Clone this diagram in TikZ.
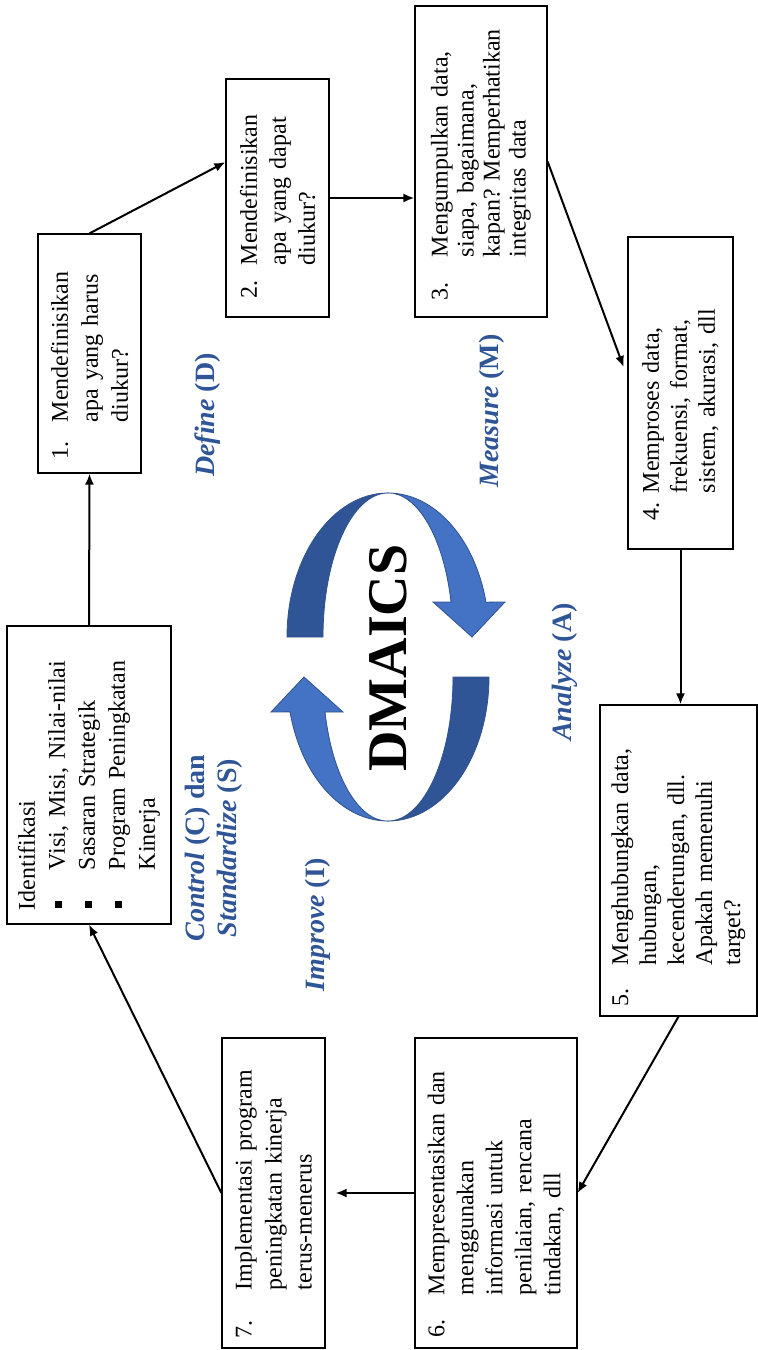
\documentclass[tikz,border=0pt]{standalone}
\usepackage{fontspec}
\setmainfont{Liberation Serif}
\usetikzlibrary{arrows.meta,calc}
\definecolor{phaseblue}{RGB}{47,85,151}
\definecolor{dmdark}{RGB}{47,85,151}
\definecolor{dmlight}{RGB}{68,114,196}
\definecolor{dmline}{RGB}{47,82,143}
\hyphenpenalty=10000
\exhyphenpenalty=10000
\frenchspacing
\newcommand{\steptext}[4]{\makebox[#1][l]{#2}\parbox[t]{#3}{#4}}
\newcommand{\bulletitem}[1]{\makebox[20pt][l]{\hspace{1pt}\rule[1.2pt]{3.5pt}{3.5pt}}\parbox[t]{110pt}{#1}}
\tikzset{
  stepbox/.style={draw, line width=0.6pt, rotate=90, inner sep=0pt, align=left,
    font=\fontsize{12}{14.5}\selectfont},
  flow/.style={-{Latex[length=5.5pt,width=4.5pt]}, line width=1pt},
  phase/.style={rotate=90, text=phaseblue, align=center,
    font=\fontsize{14}{16}\selectfont\bfseries},
  dmband/.style={draw=dmline, line width=0.4pt},
}
\begin{document}
\begin{tikzpicture}
    \def\x{0.5pt}
    \def\y{-0.5pt}
    \useasboundingbox (0,0) rectangle (758*\x,1350*\y);
    % steps of the cycle
    \node[stepbox, minimum width=149pt, minimum height=82pt, text width=135pt, font=\fontsize{12}{15}\selectfont] (b0) at (89*\x,775*\y) {Identifikasi\\ \bulletitem{Visi, Misi, Nilai-nilai}\\ \bulletitem{Sasaran Strategik}\\ \bulletitem{Program Peningkatan\linebreak Kinerja}};
    \node[stepbox, minimum width=119.5pt, minimum height=51.5pt, text width=105.5pt, font=\fontsize{12}{15}\selectfont] (b1) at (89.5*\x,353.5*\y) {\steptext{18.5pt}{1.}{78pt}{Mendefinisikan\linebreak apa yang harus\linebreak diukur?}};
    \node[stepbox, minimum width=119pt, minimum height=51.5pt, text width=100pt] (b2) at (277.5*\x,198*\y) {\steptext{16.5pt}{2.}{78pt}{Mendefinisikan\linebreak apa yang dapat\linebreak diukur?}};
    \node[stepbox, minimum width=155.5pt, minimum height=66pt, text width=138.5pt, font=\fontsize{12}{13}\selectfont] (b3) at (481*\x,161.5*\y) {\steptext{21.5pt}{3.}{117pt}{Mengumpulkan data,\linebreak siapa, bagaimana,\linebreak kapan? Memperhatikan\linebreak integritas data}};
    \node[stepbox, minimum width=156pt, minimum height=52.5pt, text width=127pt, font=\fontsize{12}{14}\selectfont] (b4) at (680.5*\x,393*\y) {\steptext{13.5pt}{4.}{100pt}{Memproses data,\\ frekuensi, format,\\ sistem, akurasi, dll}};
    \node[stepbox, minimum width=155.5pt, minimum height=78.5pt, text width=145.5pt, font=\fontsize{12}{14}\selectfont] (b5) at (678.5*\x,860.5*\y) {\steptext{20.5pt}{5.}{110pt}{Menghubungkan data,\linebreak hubungan,\\ kecenderungan, dll.\linebreak Apakah memenuhi\linebreak target?}};
    \node[stepbox, minimum width=155pt, minimum height=81pt, text width=144pt] (b6) at (496*\x,1193*\y) {\steptext{21pt}{6.}{119pt}{Mempresentasikan dan\linebreak menggunakan\\ informasi untuk\\ penilaian, rencana\linebreak tindakan, dll}};
    \node[stepbox, minimum width=155pt, minimum height=51.5pt, text width=145pt, font=\fontsize{12}{15}\selectfont] (b7) at (273.5*\x,1193*\y) {\steptext{24pt}{7.}{111pt}{Implementasi program\linebreak peningkatan kinerja\linebreak terus-menerus}};
    % connectors
    \draw[flow] (b0.east) -- (b1.west);
    \draw[flow] (b1.east) -- ($(b2.north east)!0.35!(b2.north west)$);
    \draw[flow] (b2.south) -- (b2.south -| b3.north);
    \draw[flow, shorten >=5.5pt] (b3.south) -- ($(b4.north east)!0.45!(b4.north west)$);
    \draw[flow] (b4.west) -- (b4.west |- b5.east);
    \draw[flow] (b5.west) -- (b6.south);
    \draw[flow, shorten >=5pt] (b6.north) -- (b7.south);
    \draw[flow] (b7.north) -- (b0.west);
    % the two turning arrows
    \foreach \r in {0,180}{
      \begin{scope}[rotate around={\r:(388*\x,657*\y)}]
        \begin{scope}[shift={(388*\x,637*\y)}, x=0.5pt, y=0.5pt]
          \filldraw[dmband, fill=dmdark] (-101,0) arc[start angle=180, end angle=90, x radius=101, y radius=144]
            arc[start angle=90, end angle=180, x radius=65, y radius=144] -- cycle;
          \filldraw[dmband, fill=dmlight] (0,144) arc[start angle=90, end angle=14, x radius=101, y radius=144]
            -- (117,35) -- (84,0) -- (45,35) -- (63,35)
            arc[start angle=14, end angle=90, x radius=65, y radius=144] -- cycle;
        \end{scope}
      \end{scope}
    }
    \node[rotate=90, font=\fontsize{28}{30}\selectfont\bfseries] (dm) at (388*\x,658*\y) {DMAICS};
    % phase labels
    \node[phase] (pd) at (208*\x,415*\y) {\textit{Define} (D)};
    \node[phase] (pm) at (492*\x,411*\y) {\textit{Measure} (M)};
    \node[phase] (pa) at (565*\x,672*\y) {\textit{Analyze} (A)};
    \node[phase] (pi) at (318*\x,925*\y) {\textit{Improve} (I)};
    \node[phase] (pc) at (214*\x,848*\y) {\textit{Control} (C) dan\\ \textit{Standardize} (S)};
  \end{tikzpicture}
\end{document}
